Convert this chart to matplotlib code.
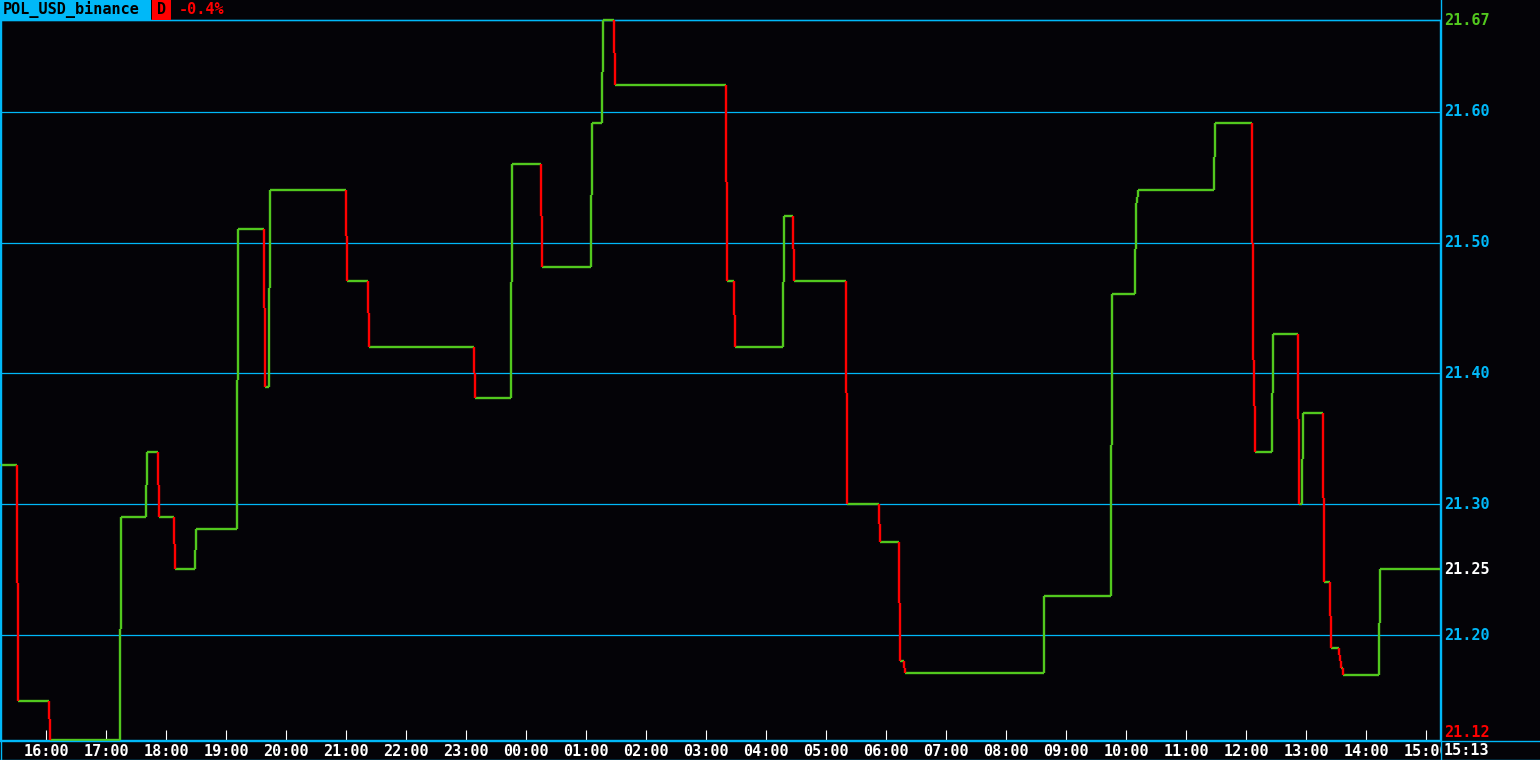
import matplotlib
matplotlib.use("Agg")
import matplotlib.pyplot as plt
from matplotlib.lines import Line2D
from matplotlib.patches import Rectangle

# ---------------- data ----------------
symbol = "POL_USD_binance"
period = "D"
change_text = "-0.4%"
start_clock = "15:14"          # left edge of the 24h window
last_clock = "15:13"
window_minutes = 1440

# minutes since window start at which price changed, and the new price
change_minutes = [0, 17, 18, 49, 50, 120, 121, 146, 147, 158, 159, 174, 175, 195, 196,
                  237, 238, 264, 265, 269, 270, 346, 347, 368, 369, 474, 475, 511, 512,
                  541, 542, 591, 592, 602, 603, 614, 615, 726, 727, 734, 735, 783, 784,
                  793, 794, 846, 847, 879, 880, 899, 900, 904, 905, 1044, 1111, 1112,
                  1135, 1136, 1137, 1138, 1214, 1215, 1252, 1253, 1254, 1255, 1272, 1273,
                  1298, 1299, 1302, 1303, 1323, 1324, 1330, 1331, 1339, 1340, 1341, 1343,
                  1379, 1380]
prices = [21.330, 21.240, 21.150, 21.136, 21.120, 21.205, 21.290, 21.315, 21.340, 21.315,
          21.290, 21.270, 21.251, 21.265, 21.281, 21.395, 21.510, 21.450, 21.390, 21.465,
          21.540, 21.505, 21.471, 21.446, 21.420, 21.400, 21.381, 21.470, 21.560, 21.520,
          21.481, 21.536, 21.591, 21.630, 21.670, 21.645, 21.620, 21.546, 21.471, 21.445,
          21.420, 21.470, 21.520, 21.495, 21.471, 21.385, 21.300, 21.285, 21.271, 21.225,
          21.180, 21.175, 21.171, 21.230, 21.345, 21.461, 21.495, 21.530, 21.535, 21.540,
          21.565, 21.591, 21.500, 21.410, 21.375, 21.340, 21.385, 21.430, 21.365, 21.300,
          21.335, 21.370, 21.305, 21.241, 21.215, 21.190, 21.185, 21.180, 21.175, 21.170,
          21.209, 21.251]

hour_labels = ["16:00", "17:00", "18:00", "19:00", "20:00", "21:00", "22:00", "23:00",
               "00:00", "01:00", "02:00", "03:00", "04:00", "05:00", "06:00", "07:00",
               "08:00", "09:00", "10:00", "11:00", "12:00", "13:00", "14:00", "15:00"]
grid_levels = [21.20, 21.30, 21.40, 21.50, 21.60, 21.67]
axis_labels = ["21.67", "21.60", "21.50", "21.40", "21.30", "21.25", "21.20", "21.12"]
axis_values = [21.67, 21.60, 21.50, 21.40, 21.30, 21.25, 21.20, 21.12]
y_min, y_max = 21.12, 21.67

# ---------------- style ----------------
BG = "#040307"
CYAN = "#00b8f8"
GREEN = "#52c81e"
RED = "#ff0000"
FONT = "DejaVu Sans Mono"
FW = "bold"
FS = 10.9
W, H = 1540, 760

def to_min(s):
    h, m = s.split(":")
    return int(h) * 60 + int(m)

start = to_min(start_clock)
tick_pos = [(to_min(l) - start) % 1440 for l in hour_labels]

fig = plt.figure(figsize=(W / 100, H / 100), dpi=100, facecolor=BG)
ax = fig.add_axes([0, 20 / H, 1440 / W, 720 / H], facecolor=BG)
ax.set_xlim(0, window_minutes)
ax.set_ylim(y_min, y_max)

for s in ax.spines.values():
    s.set_color(CYAN)
    s.set_linewidth(1.0)

# grid
ax.hlines(grid_levels, 0, window_minutes, colors=CYAN, lw=0.9, zorder=1, clip_on=False)

# step line
ends = change_minutes[1:] + [window_minutes]
ax.hlines(prices, change_minutes, ends, colors=GREEN, lw=1.7, zorder=3, clip_on=False)
vx = change_minutes[1:]
v0 = prices[:-1]
v1 = prices[1:]
vcol = [RED if b < a else GREEN for a, b in zip(v0, v1)]
ax.vlines(vx, v0, v1, colors=vcol, lw=1.7, zorder=4, clip_on=False)

# x ticks
ax.set_xticks(tick_pos, hour_labels)
ax.tick_params(axis="x", direction="in", length=7.2, width=0.8, color="white",
               labelcolor="white", pad=3.0, labelsize=FS)
for t in ax.get_xticklabels():
    t.set_family(FONT)
    t.set_weight(FW)
ax.set_yticks([])

# right price labels
last = prices[-1]
hi, lo = max(prices), min(prices)
for lab, val in zip(axis_labels, axis_values):
    if abs(val - hi) < 1e-6:
        c = GREEN
    elif abs(val - lo) < 1e-6:
        c = RED
    elif abs(val - last) < 0.004:
        c = "white"
    else:
        c = CYAN
    va = "bottom" if abs(val - y_min) < 1e-9 else "center"
    ax.text(1444, val, lab, color=c, family=FONT, weight=FW, fontsize=FS, va=va,
            ha="left", clip_on=False)

def fx(px):
    return px / W

def fy(py):
    return 1 - py / H

# cover for label overflow on the right of the time axis
fig.add_artist(Rectangle((fx(1441), fy(758.5)), fx(99), 17.5 / H, facecolor=BG,
                         edgecolor="none", transform=fig.transFigure, zorder=5))
fig.text(fx(1444), fy(750.5), last_clock, color="white", family=FONT, weight=FW,
         fontsize=FS, va="center", ha="left", zorder=6)

# frame lines
for xs, ys in [([0.5, 0.5], [0, H]), ([1440.5, 1440.5], [0, H]),
               ([0, W], [740.5, 740.5]), ([0, W], [759.5, 759.5])]:
    fig.add_artist(Line2D([fx(x) for x in xs], [fy(y) for y in ys], color=CYAN,
                          lw=1.0, transform=fig.transFigure, zorder=7))

# title bar
fig.add_artist(Rectangle((0, fy(19.5)), fx(150.5), 19.5 / H, facecolor=CYAN,
                         edgecolor="none", transform=fig.transFigure, zorder=8))
fig.text(fx(3), fy(10), symbol, color="black", family=FONT, weight=FW, fontsize=FS,
         va="center", ha="left", zorder=9)
fig.add_artist(Rectangle((fx(151.5), fy(19.5)), fx(19.5), 19.5 / H, facecolor=RED,
                         edgecolor="none", transform=fig.transFigure, zorder=8))
fig.text(fx(161.5), fy(10), period, color="black", family=FONT, weight=FW, fontsize=FS,
         va="center", ha="center", zorder=9)
fig.text(fx(179), fy(10), change_text, color=RED, family=FONT, weight=FW, fontsize=FS,
         va="center", ha="left", zorder=9)

fig.savefig("out.png", dpi=100, facecolor=BG)
